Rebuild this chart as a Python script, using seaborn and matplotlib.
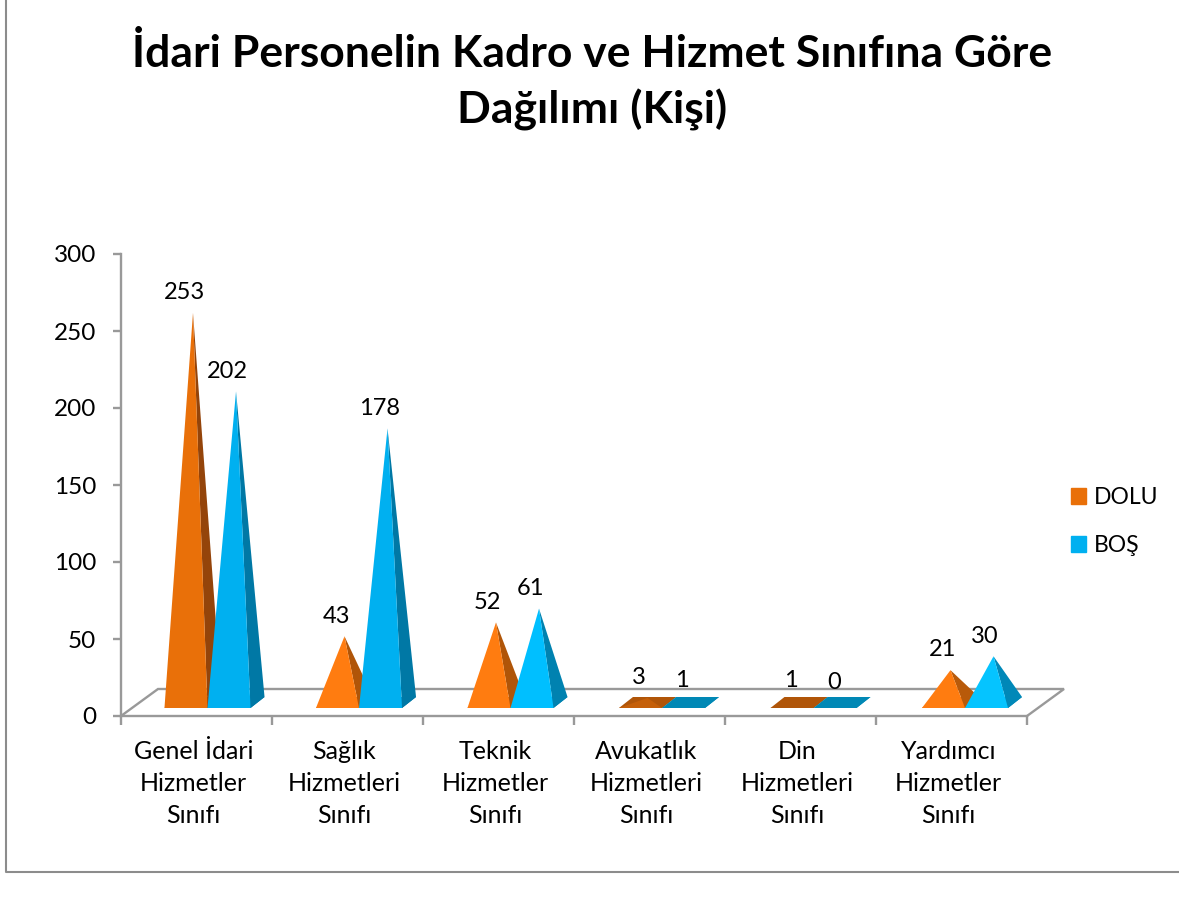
import matplotlib
matplotlib.use('Agg')
import matplotlib.pyplot as plt
import seaborn as sns
import pandas as pd
from matplotlib.lines import Line2D
from matplotlib.patches import Patch, Polygon
from matplotlib.transforms import ScaledTranslation

# data
categories = ['Genel İdari\nHizmetler\nSınıfı', 'Sağlık\nHizmetleri\nSınıfı', 'Teknik\nHizmetler\nSınıfı',
              'Avukatlık\nHizmetleri\nSınıfı', 'Din\nHizmetleri\nSınıfı', 'Yardımcı\nHizmetler\nSınıfı']
dolu = [253, 43, 52, 3, 1, 21]
bos = [202, 178, 61, 1, 0, 30]
series_names = ['DOLU', 'BOŞ']
y_ticks = [0, 50, 100, 150, 200, 250, 300]

df = pd.DataFrame({'kategori': categories * 2,
                   'seri': [series_names[0]] * 6 + [series_names[1]] * 6,
                   'kisi': dolu + bos})

# face colours per category (front, side)
orange_faces = [('#E97009', '#94440A'), ('#FF7C10', '#B05508'), ('#FF7C10', '#B05508'),
                ('#C55F08', '#B05508'), ('#B05508', '#B05508'), ('#FF7C10', '#B85A0A')]
blue_faces = [('#00B0F0', '#0078A5'), ('#00B0F0', '#0078A5'), ('#00BFFF', '#0082B0'),
              ('#0088B5', '#0088B5'), ('#0088B5', '#0088B5'), ('#05C4FF', '#0088B8')]
legend_colors = ['#E97009', '#00B0F0']
grey = '#999999'

sns.set_style('white')
plt.rcParams['font.family'] = ['Lato', 'DejaVu Sans']

W, H = 1179, 899
fig = plt.figure(figsize=(W / 100, H / 100), dpi=100)
ax = fig.add_axes([121 / W, 1 - 716 / H, 906 / W, 462 / H])

sns.barplot(data=df, x='kategori', y='kisi', hue='seri', hue_order=series_names,
            palette=legend_colors, width=0.57, gap=0, saturation=1, legend=False, ax=ax)
ax.set_xlim(-0.5, 5.5)
ax.set_ylim(0, 300)
ax.set_yticks(y_ticks)
ax.set_xlabel('')
ax.set_ylabel('')

# pixels to data units
px_x = 1 / 151
px_y = 300 / 462

# floor of the fake 3d box
floor_dx, floor_dy = 37 * px_x, 27 * px_y
ax.plot([-0.5, -0.5 + floor_dx, 5.5 + floor_dx, 5.5], [0, floor_dy, floor_dy, 0],
        color=grey, lw=1.7, clip_on=False, zorder=1, solid_joinstyle='miter')

# pyramids are built on the bars seaborn placed
base_y = 8 * px_y
depth_x, depth_y = 14 * px_x, 11 * px_y

for container, faces in zip(ax.containers, [orange_faces, blue_faces]):
    for i, (bar, (front, side), value) in enumerate(zip(container, faces, container.datavalues)):
        bar.set_visible(False)
        # pyramids step a little wider than the ticks
        x0 = bar.get_x() + (11 + 0.5 * i) * px_x
        x1 = x0 + bar.get_width()
        xc = (x0 + x1) / 2
        apex = (xc + depth_x / 2, base_y + depth_y / 2 + value)
        ax.add_patch(Polygon([(x0, base_y), (x1, base_y), (x1 + depth_x, base_y + depth_y), (x0 + depth_x, base_y + depth_y)],
                             closed=True, fc=side, lw=0, clip_on=False, zorder=3))
        ax.add_patch(Polygon([(x1, base_y), (x1 + depth_x, base_y + depth_y), apex],
                             closed=True, fc=side, lw=0, clip_on=False, zorder=3))
        ax.add_patch(Polygon([(x0, base_y), (x1, base_y), apex],
                             closed=True, fc=front, lw=0, clip_on=False, zorder=3))
        ax.annotate(f'{value:.0f}', xy=(xc, apex[1]), xytext=(-1, 14.6), textcoords='offset points',
                    ha='center', va='center', fontsize=17, color='black', zorder=5)

# axes look
sns.despine(ax=ax)
for side in ['left', 'bottom']:
    ax.spines[side].set_color(grey)
    ax.spines[side].set_linewidth(1.7)
ax.set_xticks([i - 0.5 for i in range(7)], minor=True)
ax.tick_params(axis='x', which='minor', bottom=True, length=6.5, width=1.7, color=grey)
ax.tick_params(axis='x', which='major', bottom=False, pad=14, labelsize=18, labelcolor='black')
ax.tick_params(axis='y', left=True, length=6, width=1.7, color=grey, pad=12, labelsize=17.5, labelcolor='black')
label_shift = ScaledTranslation(-3 / 100, 0, fig.dpi_scale_trans)
for label in ax.get_xticklabels():
    label.set_linespacing(1.46)
    label.set_transform(label.get_transform() + label_shift)

# title
fig.text(592 / W, 1 - 82 / H, 'İdari Personelin Kadro ve Hizmet Sınıfına Göre\nDağılımı (Kişi)',
         ha='center', va='center', fontsize=32, fontweight='bold', color='black', linespacing=1.4)

# legend
handles = [Patch(color=c, label=n) for c, n in zip(legend_colors, series_names)]
fig.legend(handles=handles, loc='center left', bbox_to_anchor=(1050 / W, 1 - 521.5 / H), frameon=False,
           fontsize=16.5, labelcolor='black', handlelength=0.65, handleheight=0.65, handletextpad=0.35, labelspacing=1.17)

# chart border
fig.add_artist(Line2D([6 / W, 6 / W, 1], [1, 1 - 872 / H, 1 - 872 / H], color='#8C8C8C', lw=1.5))

fig.savefig('out.png', dpi=100)
